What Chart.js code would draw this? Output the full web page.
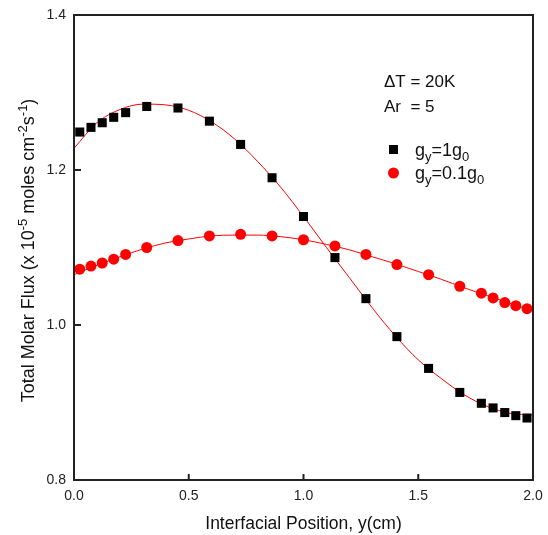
<!DOCTYPE html>
<html>
<head>
<meta charset="utf-8">
<script src="https://cdn.jsdelivr.net/npm/chart.js@4.4.1/dist/chart.umd.min.js"></script>
<style>
  html, body { margin: 0; padding: 0; background: #fff; }
  #wrap { width: 548px; height: 535px; }
</style>
</head>
<body>
<div id="wrap"><canvas id="fluxo"></canvas></div>
<script>
// Posições na interface (cm)
var posicoes = [0.025, 0.074, 0.123, 0.173, 0.225, 0.317, 0.453, 0.590, 0.726, 0.863, 1.000,
                1.137, 1.272, 1.407, 1.545, 1.681, 1.775, 1.826, 1.877, 1.925, 1.974];

// gy = 1 g0 (quadrados pretos)
var fluxoG1 = [1.249, 1.255, 1.261, 1.268, 1.274, 1.282, 1.280, 1.263, 1.233, 1.190, 1.140,
               1.087, 1.034, 0.985, 0.944, 0.913, 0.899, 0.893, 0.887, 0.883, 0.880];

// gy = 0.1 g0 (círculos vermelhos)
var fluxoG01 = [1.072, 1.076, 1.080, 1.085, 1.091, 1.100, 1.109, 1.115, 1.117, 1.115, 1.110,
                1.102, 1.091, 1.078, 1.065, 1.050, 1.041, 1.035, 1.029, 1.025, 1.021];

// Curvas ajustadas (linhas vermelhas finas)
var posicoesAjuste = [0, 0.1, 0.2, 0.3, 0.4, 0.5, 0.6, 0.7, 0.8, 0.9, 1.0,
                      1.1, 1.2, 1.3, 1.4, 1.5, 1.6, 1.7, 1.8, 1.9, 2.0];
var ajusteG1 = [1.228, 1.261, 1.278, 1.285, 1.284, 1.277, 1.262, 1.240, 1.211, 1.178, 1.140,
                1.100, 1.061, 1.022, 0.986, 0.955, 0.931, 0.910, 0.895, 0.886, 0.884];
var ajusteG01 = [1.065, 1.077, 1.088, 1.098, 1.106, 1.111, 1.115, 1.116, 1.116, 1.114, 1.110,
                 1.104, 1.097, 1.088, 1.079, 1.069, 1.059, 1.048, 1.038, 1.028, 1.018];

var ticksX = [0.0, 0.5, 1.0, 1.5, 2.0];
var ticksY = [0.8, 1.0, 1.2, 1.4];

function pares(xs, ys) {
    return xs.map(function(x, i) { return { x: x, y: ys[i] }; });
}

var fonte = '"Liberation Sans", Arial, sans-serif';

// Desenha texto com sobrescritos / subscritos
function textoRico(ctx, partes, x, y, tam) {
    var cx = x;
    partes.forEach(function(p) {
        var t = p.s ? Math.round(tam * 0.7) : tam;
        ctx.font = t + 'px ' + fonte;
        ctx.fillText(p.t, cx, y + (p.dy || 0));
        cx += ctx.measureText(p.t).width;
    });
    return cx - x;
}
function larguraRica(ctx, partes, tam) {
    var w = 0;
    partes.forEach(function(p) {
        var t = p.s ? Math.round(tam * 0.7) : tam;
        ctx.font = t + 'px ' + fonte;
        w += ctx.measureText(p.t).width;
    });
    return w;
}

// Moldura, marcas internas, título do eixo y e legenda
var extras = {
    id: 'extras',
    afterDraw: function(chart) {
        var ctx = chart.ctx;
        var a = chart.chartArea;
        var sx = chart.scales.x, sy = chart.scales.y;
        ctx.save();
        ctx.strokeStyle = '#222';
        ctx.lineWidth = 2;
        ctx.strokeRect(a.left, a.top, a.right - a.left, a.bottom - a.top);

        ctx.beginPath();
        ticksX.slice(1, -1).forEach(function(v) {
            var px = sx.getPixelForValue(v);
            ctx.moveTo(px, a.bottom);
            ctx.lineTo(px, a.bottom - 6);
        });
        ticksY.slice(1, -1).forEach(function(v) {
            var py = sy.getPixelForValue(v);
            ctx.moveTo(a.left, py);
            ctx.lineTo(a.left + 7, py);
        });
        ctx.stroke();

        ctx.fillStyle = '#111';
        ctx.textBaseline = 'alphabetic';
        ctx.textAlign = 'left';

        // Título do eixo y
        var titulo = [
            { t: 'Total Molar Flux (x 10' },
            { t: '-5', s: true, dy: -7 },
            { t: ' moles cm' },
            { t: '-2', s: true, dy: -7 },
            { t: 's' },
            { t: '-1', s: true, dy: -7 },
            { t: ')' }
        ];
        var w = larguraRica(ctx, titulo, 18);
        ctx.save();
        ctx.translate(34, (a.top + a.bottom) / 2 + 3);
        ctx.rotate(-Math.PI / 2);
        textoRico(ctx, titulo, -w / 2, 0, 18);
        ctx.restore();

        // Anotações
        ctx.font = '17px ' + fonte;
        ctx.fillText('\u0394T = 20K', 384, 87);
        ctx.fillText('Ar  = 5', 384, 112);

        // Legenda
        ctx.fillStyle = '#000';
        ctx.fillRect(389, 145, 9, 9);
        ctx.fillStyle = 'red';
        ctx.beginPath();
        ctx.arc(393.5, 173, 5.5, 0, Math.PI * 2);
        ctx.fill();
        ctx.fillStyle = '#111';
        textoRico(ctx, [{ t: 'g' }, { t: 'y', s: true, dy: 5 }, { t: '=1g' }, { t: '0', s: true, dy: 5 }], 415, 156, 18);
        textoRico(ctx, [{ t: 'g' }, { t: 'y', s: true, dy: 5 }, { t: '=0.1g' }, { t: '0', s: true, dy: 5 }], 415, 179, 18);
        ctx.restore();
    }
};

var ctx = document.getElementById('fluxo').getContext('2d');

var grafico = new Chart(ctx, {
    type: 'scatter',
    data: {
        datasets: [{
            label: 'gy=1g0',
            data: pares(posicoes, fluxoG1),
            pointStyle: 'rect',
            pointRadius: 6.4,
            backgroundColor: '#000',
            borderColor: '#000',
            borderWidth: 0
        }, {
            label: 'gy=0.1g0',
            data: pares(posicoes, fluxoG01),
            pointStyle: 'circle',
            pointRadius: 5.5,
            backgroundColor: '#ff0000',
            borderColor: '#ff0000',
            borderWidth: 0
        }, {
            label: 'ajuste 1g0',
            data: pares(posicoesAjuste, ajusteG1),
            showLine: true,
            pointRadius: 0,
            borderColor: '#ff0000',
            borderWidth: 1,
            cubicInterpolationMode: 'monotone'
        }, {
            label: 'ajuste 0.1g0',
            data: pares(posicoesAjuste, ajusteG01),
            showLine: true,
            pointRadius: 0,
            borderColor: '#ff0000',
            borderWidth: 1,
            cubicInterpolationMode: 'monotone'
        }]
    },
    options: {
        responsive: true,
        maintainAspectRatio: false,
        animation: false,
        layout: { padding: { left: 0, right: 15, top: 15, bottom: 0 } },
        plugins: {
            legend: { display: false },
            tooltip: { enabled: false }
        },
        scales: {
            x: {
                type: 'linear',
                min: 0,
                max: 2,
                afterFit: function(s) {
                    s.height = 55;
                    s.paddingLeft = 0;
                    s.paddingRight = 0;
                },
                afterBuildTicks: function(s) { s.ticks = ticksX.map(function(v) { return { value: v }; }); },
                grid: { display: false, drawTicks: false },
                border: { display: false },
                ticks: {
                    padding: 8,
                    color: '#222',
                    font: { family: fonte, size: 14 },
                    maxRotation: 0,
                    callback: function(v) { return Number(v).toFixed(1); }
                },
                title: {
                    display: true,
                    text: 'Interfacial Position, y(cm)',
                    color: '#111',
                    font: { family: fonte, size: 17.5 },
                    padding: { top: 0, bottom: 0 }
                }
            },
            y: {
                type: 'linear',
                min: 0.8,
                max: 1.4,
                afterFit: function(s) {
                    s.width = 74;
                    s.paddingTop = 0;
                    s.paddingBottom = 0;
                },
                afterBuildTicks: function(s) { s.ticks = ticksY.map(function(v) { return { value: v }; }); },
                grid: { display: false, drawTicks: false },
                border: { display: false },
                ticks: {
                    padding: 8,
                    color: '#222',
                    font: { family: fonte, size: 14 },
                    callback: function(v) { return Number(v).toFixed(1); }
                }
            }
        }
    },
    plugins: [extras]
});
</script>
</body>
</html>
